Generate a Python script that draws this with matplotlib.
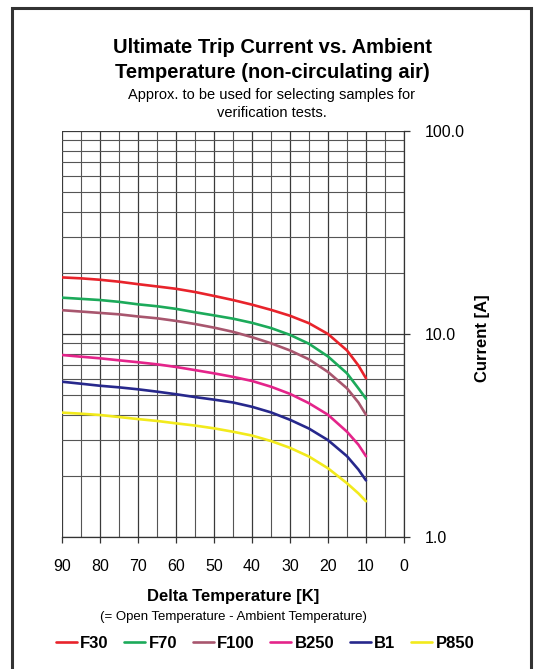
import matplotlib
matplotlib.use("Agg")
import matplotlib.pyplot as plt
import matplotlib.patches as patches
from matplotlib.ticker import FixedLocator, FuncFormatter

plt.rcParams['font.family'] = ['Liberation Sans', 'DejaVu Sans']

# delta temperature [K] at which values were read
delta_t = [90, 85, 80, 75, 70, 65, 60, 55, 50, 45, 40, 35, 30, 25, 20, 15, 12, 10]

# ultimate trip current [A]
f30 = [19.0, 18.8, 18.5, 18.1, 17.6, 17.15, 16.7, 16.1, 15.4, 14.7, 13.95, 13.15, 12.3, 11.3, 10.0, 8.3, 7.0, 6.05]
f70 = [15.1, 14.9, 14.7, 14.4, 14.0, 13.7, 13.3, 12.8, 12.35, 11.9, 11.35, 10.7, 9.9, 8.95, 7.75, 6.4, 5.4, 4.8]
f100 = [13.1, 12.9, 12.7, 12.5, 12.2, 11.95, 11.6, 11.2, 10.75, 10.25, 9.65, 9.0, 8.3, 7.5, 6.5, 5.4, 4.6, 4.0]
b250 = [7.88, 7.73, 7.59, 7.42, 7.26, 7.09, 6.88, 6.64, 6.4, 6.15, 5.87, 5.5, 5.07, 4.56, 4.0, 3.3, 2.85, 2.5]
b1 = [5.82, 5.69, 5.56, 5.46, 5.34, 5.2, 5.05, 4.89, 4.75, 4.6, 4.38, 4.11, 3.78, 3.42, 3.0, 2.5, 2.15, 1.9]
p850 = [4.1, 4.05, 3.99, 3.9, 3.81, 3.73, 3.63, 3.54, 3.43, 3.3, 3.16, 2.97, 2.75, 2.49, 2.18, 1.84, 1.64, 1.5]

names = ["F30", "F70", "F100", "B250", "B1", "P850"]
series = [f30, f70, f100, b250, b1, p850]
colors = ['#e8232b', '#1caa5a', '#a8566e', '#e4248a', '#27288c', '#f2ea1c']

fig = plt.figure(figsize=(5.36, 6.69), dpi=100)
ax = fig.add_axes([62 / 536, 1 - 537 / 669, (404 - 62) / 536, (537 - 131) / 669])

for name, vals, c in zip(names, series, colors):
    ax.plot(delta_t, vals, color=c, lw=1.9, label=name, solid_capstyle='round')

ax.set_yscale('log')
ax.set_ylim(1, 100)
ax.set_xlim(90, 0)

ax.xaxis.set_major_locator(FixedLocator(range(0, 91, 10)))
ax.xaxis.set_minor_locator(FixedLocator(range(5, 90, 10)))
ax.yaxis.set_major_locator(FixedLocator([1, 10, 100]))
ax.yaxis.set_minor_locator(FixedLocator([2, 3, 4, 5, 6, 7, 8, 9, 20, 30, 40, 50, 60, 70, 80, 90]))
ax.yaxis.set_major_formatter(FuncFormatter(lambda v, p: f"{v:.1f}"))
ax.yaxis.set_minor_formatter(FuncFormatter(lambda v, p: ""))

ax.grid(True, which='major', color='#3a3a3a', lw=0.9)
ax.grid(True, which='minor', color='#555555', lw=0.8)
ax.set_axisbelow(True)

ax.yaxis.tick_right()
ax.tick_params(axis='x', which='major', direction='out', length=4, width=0.9,
               color='#333333', labelsize=11.5, pad=12)
ax.tick_params(axis='x', which='minor', length=0)
ax.tick_params(axis='y', which='major', direction='out', length=4, width=0.9,
               color='#333333', labelsize=11.5, pad=11, right=True, left=False)
ax.tick_params(axis='y', which='minor', length=0, right=False, left=False)

for s in ['left', 'top']:
    ax.spines[s].set_visible(False)
for s in ['bottom', 'right']:
    ax.spines[s].set_color('#333333')
    ax.spines[s].set_linewidth(0.9)

fig.text(272 / 536, 1 - 60 / 669,
         "Ultimate Trip Current vs. Ambient\nTemperature (non-circulating air)",
         ha='center', va='center', fontsize=14.5, fontweight='bold', linespacing=1.35)
fig.text(272 / 536, 1 - 104 / 669,
         "Approx. to be used for selecting samples for\nverification tests.",
         ha='center', va='center', fontsize=10.5, linespacing=1.4)

fig.text(483 / 536, 1 - 338 / 669, "Current [A]", rotation=90,
         ha='center', va='center', fontsize=12, fontweight='bold')
fig.text(233 / 536, 1 - 597 / 669, "Delta Temperature [K]",
         ha='center', va='center', fontsize=12, fontweight='bold')
fig.text(233 / 536, 1 - 617 / 669, "(= Open Temperature - Ambient Temperature)",
         ha='center', va='center', fontsize=9.5)

fig.legend(loc='center', bbox_to_anchor=(265 / 536, 1 - 643 / 669), ncol=6,
           frameon=False, handlelength=1.25, handletextpad=0.2, columnspacing=0.95,
           prop={'weight': 'bold', 'size': 12})

frame = patches.Rectangle((12 / 536, -0.1), (531 - 12) / 536, 1.1 - 8 / 669,
                          transform=fig.transFigure, fill=False,
                          edgecolor='#333333', lw=2.2, clip_on=False)
fig.patches.append(frame)

fig.savefig("out.png", dpi=100)
